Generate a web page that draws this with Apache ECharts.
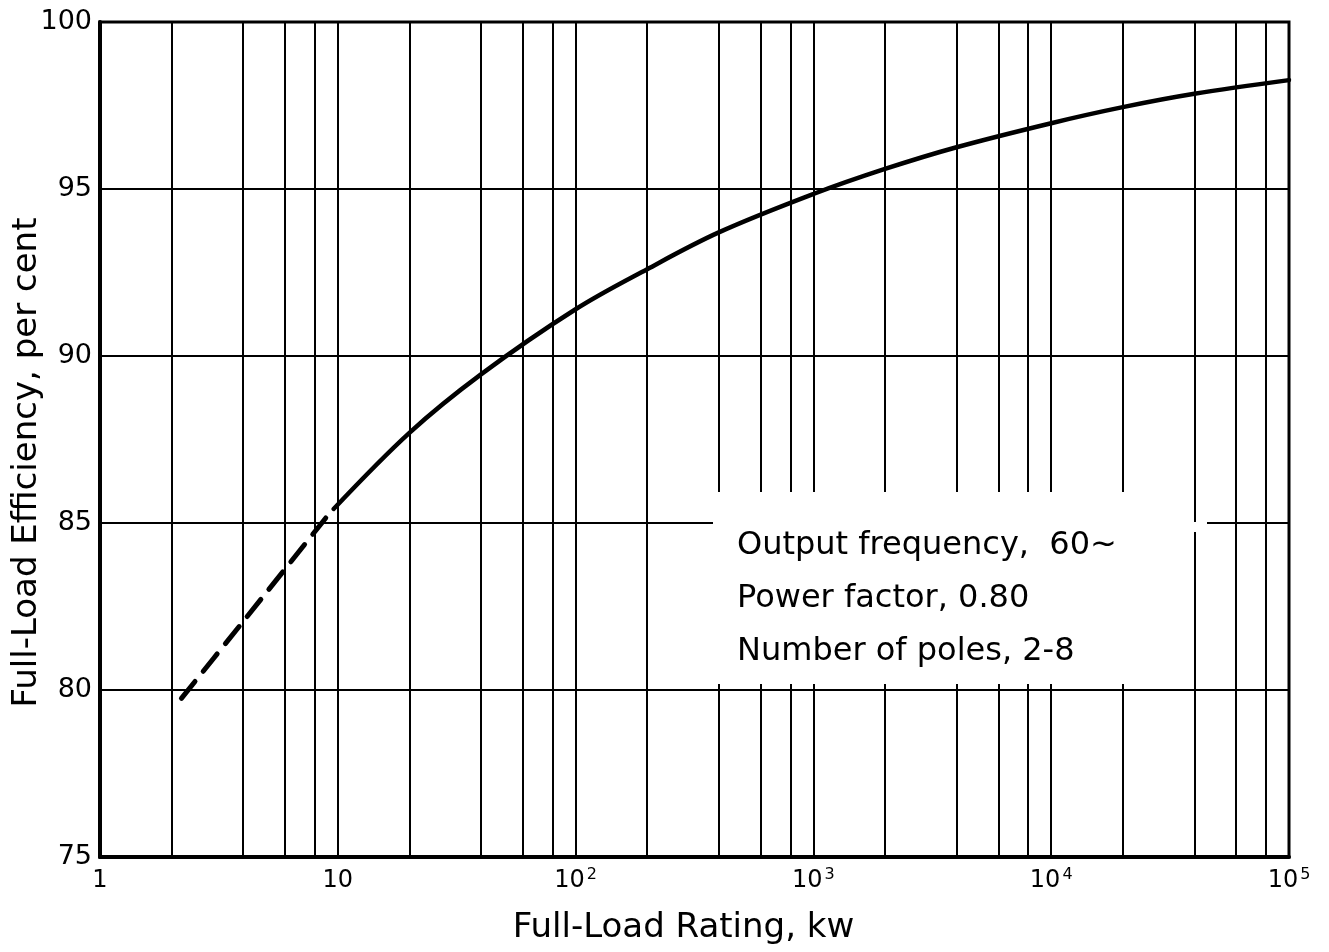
<!DOCTYPE html>
<html>
<head>
<meta charset="utf-8">
<title>Full-Load Efficiency vs Rating</title>
<script src="https://cdn.jsdelivr.net/npm/echarts@6/dist/echarts.min.js"></script>
<style>
  html, body { margin: 0; padding: 0; background: #ffffff; }
  #chart { width: 1329px; height: 952px; }
</style>
</head>
<body>
<div id="chart"></div>
<script>
// Measured curve, solid portion (kW rating -> efficiency %)
const solidKw  = [9.6, 20, 40, 100, 200, 400, 1000, 2000, 4000, 10000, 20000, 40000, 100000];
const solidEff = [85.42, 87.7, 89.45, 91.4, 92.6, 93.7, 94.85, 95.6, 96.25, 96.97, 97.45, 97.85, 98.26];

// Extrapolated (dashed) portion for small machines
const dashedKw  = [2.2, 4, 8.9];
const dashedEff = [79.75, 82.05, 85.15];

// Axis ranges and labels
const xDecades = [1, 10, 100, 1000, 10000, 100000];
const xTickLabels = ['1', '10', '10{s|2}', '10{s|3}', '10{s|4}', '10{s|5}'];
const minorSteps = [2, 4, 6, 8];
const yMin = 75, yMax = 100, yStep = 5;

const notes = ['Output frequency,  60~', 'Power factor, 0.80', 'Number of poles, 2-8'];

const FONT = '"DejaVu Sans", "Liberation Sans", sans-serif';

// Intermediate vertical rulings inside each decade
const minorLines = [];
xDecades.slice(0, -1).forEach(d => minorSteps.forEach(m => minorLines.push({ xAxis: d * m })));

const pairs = (xs, ys) => xs.map((x, i) => [x, ys[i]]);

const chart = echarts.init(document.getElementById('chart'), null, { renderer: 'canvas' });

chart.setOption({
  animation: false,
  backgroundColor: '#ffffff',
  grid: {
    left: 100, right: 40, top: 22, bottom: 95,
    containLabel: false, outerBoundsMode: 'none',
    show: true, borderColor: '#000', borderWidth: 3, backgroundColor: 'transparent'
  },
  xAxis: {
    type: 'log', logBase: 10, min: xDecades[0], max: xDecades[xDecades.length - 1],
    name: 'Full-Load Rating, kw', nameLocation: 'middle', nameGap: 54, nameMoveOverlap: false,
    nameTextStyle: { fontFamily: FONT, fontSize: 34, color: '#000', padding: [0, 22, 0, 0] },
    axisLine: { show: true, lineStyle: { color: '#000', width: 4 } },
    axisTick: { show: false },
    splitLine: { show: true, lineStyle: { color: '#000', width: 2 } },
    axisLabel: {
      margin: 10, fontFamily: FONT, fontSize: 24, lineHeight: 28, color: '#000',
      formatter: v => xTickLabels[Math.round(Math.log10(v))],
      rich: { s: { fontFamily: FONT, fontSize: 16, lineHeight: 16, color: '#000', verticalAlign: 'top', padding: [0, 0, 0, 2] } }
    }
  },
  yAxis: {
    type: 'value', min: yMin, max: yMax, interval: yStep,
    name: 'Full-Load Efficiency, per cent', nameLocation: 'middle', nameGap: 56, nameRotate: 90,
    nameMoveOverlap: false,
    nameTextStyle: { fontFamily: FONT, fontSize: 34, color: '#000', padding: [0, 46, 0, 0] },
    axisLine: { show: true, lineStyle: { color: '#000', width: 4 } },
    axisTick: { show: false },
    splitLine: { show: true, lineStyle: { color: '#000', width: 2 } },
    axisLabel: { margin: 8, fontFamily: FONT, fontSize: 27, color: '#000' }
  },
  series: [
    {
      name: 'rulings', type: 'line', data: [], silent: true,
      markLine: {
        silent: true, symbol: 'none', animation: false,
        label: { show: false },
        lineStyle: { color: '#000', width: 2, type: 'solid' },
        data: minorLines
      }
    },
    {
      name: 'extrapolated', type: 'line', data: pairs(dashedKw, dashedEff),
      showSymbol: false, smooth: 0.2, z: 5,
      lineStyle: { color: '#000', width: 5, type: [22, 13], cap: 'round' }
    },
    {
      name: 'efficiency', type: 'line', data: pairs(solidKw, solidEff),
      showSymbol: false, smooth: 0.35, z: 5,
      lineStyle: { color: '#000', width: 4.5, cap: 'round' }
    }
  ],
  graphic: [
    { type: 'rect', z: 50, shape: { x: 713, y: 492, width: 473, height: 192 }, style: { fill: '#fff' } },
    { type: 'rect', z: 50, shape: { x: 1186, y: 522, width: 21, height: 10 }, style: { fill: '#fff' } },
    ...notes.map((t, i) => ({
      type: 'text', z: 60, left: 737, top: 530 + i * 53,
      style: { text: t, fontFamily: FONT, fontSize: 32, fill: '#000' }
    }))
  ]
});
</script>
</body>
</html>
